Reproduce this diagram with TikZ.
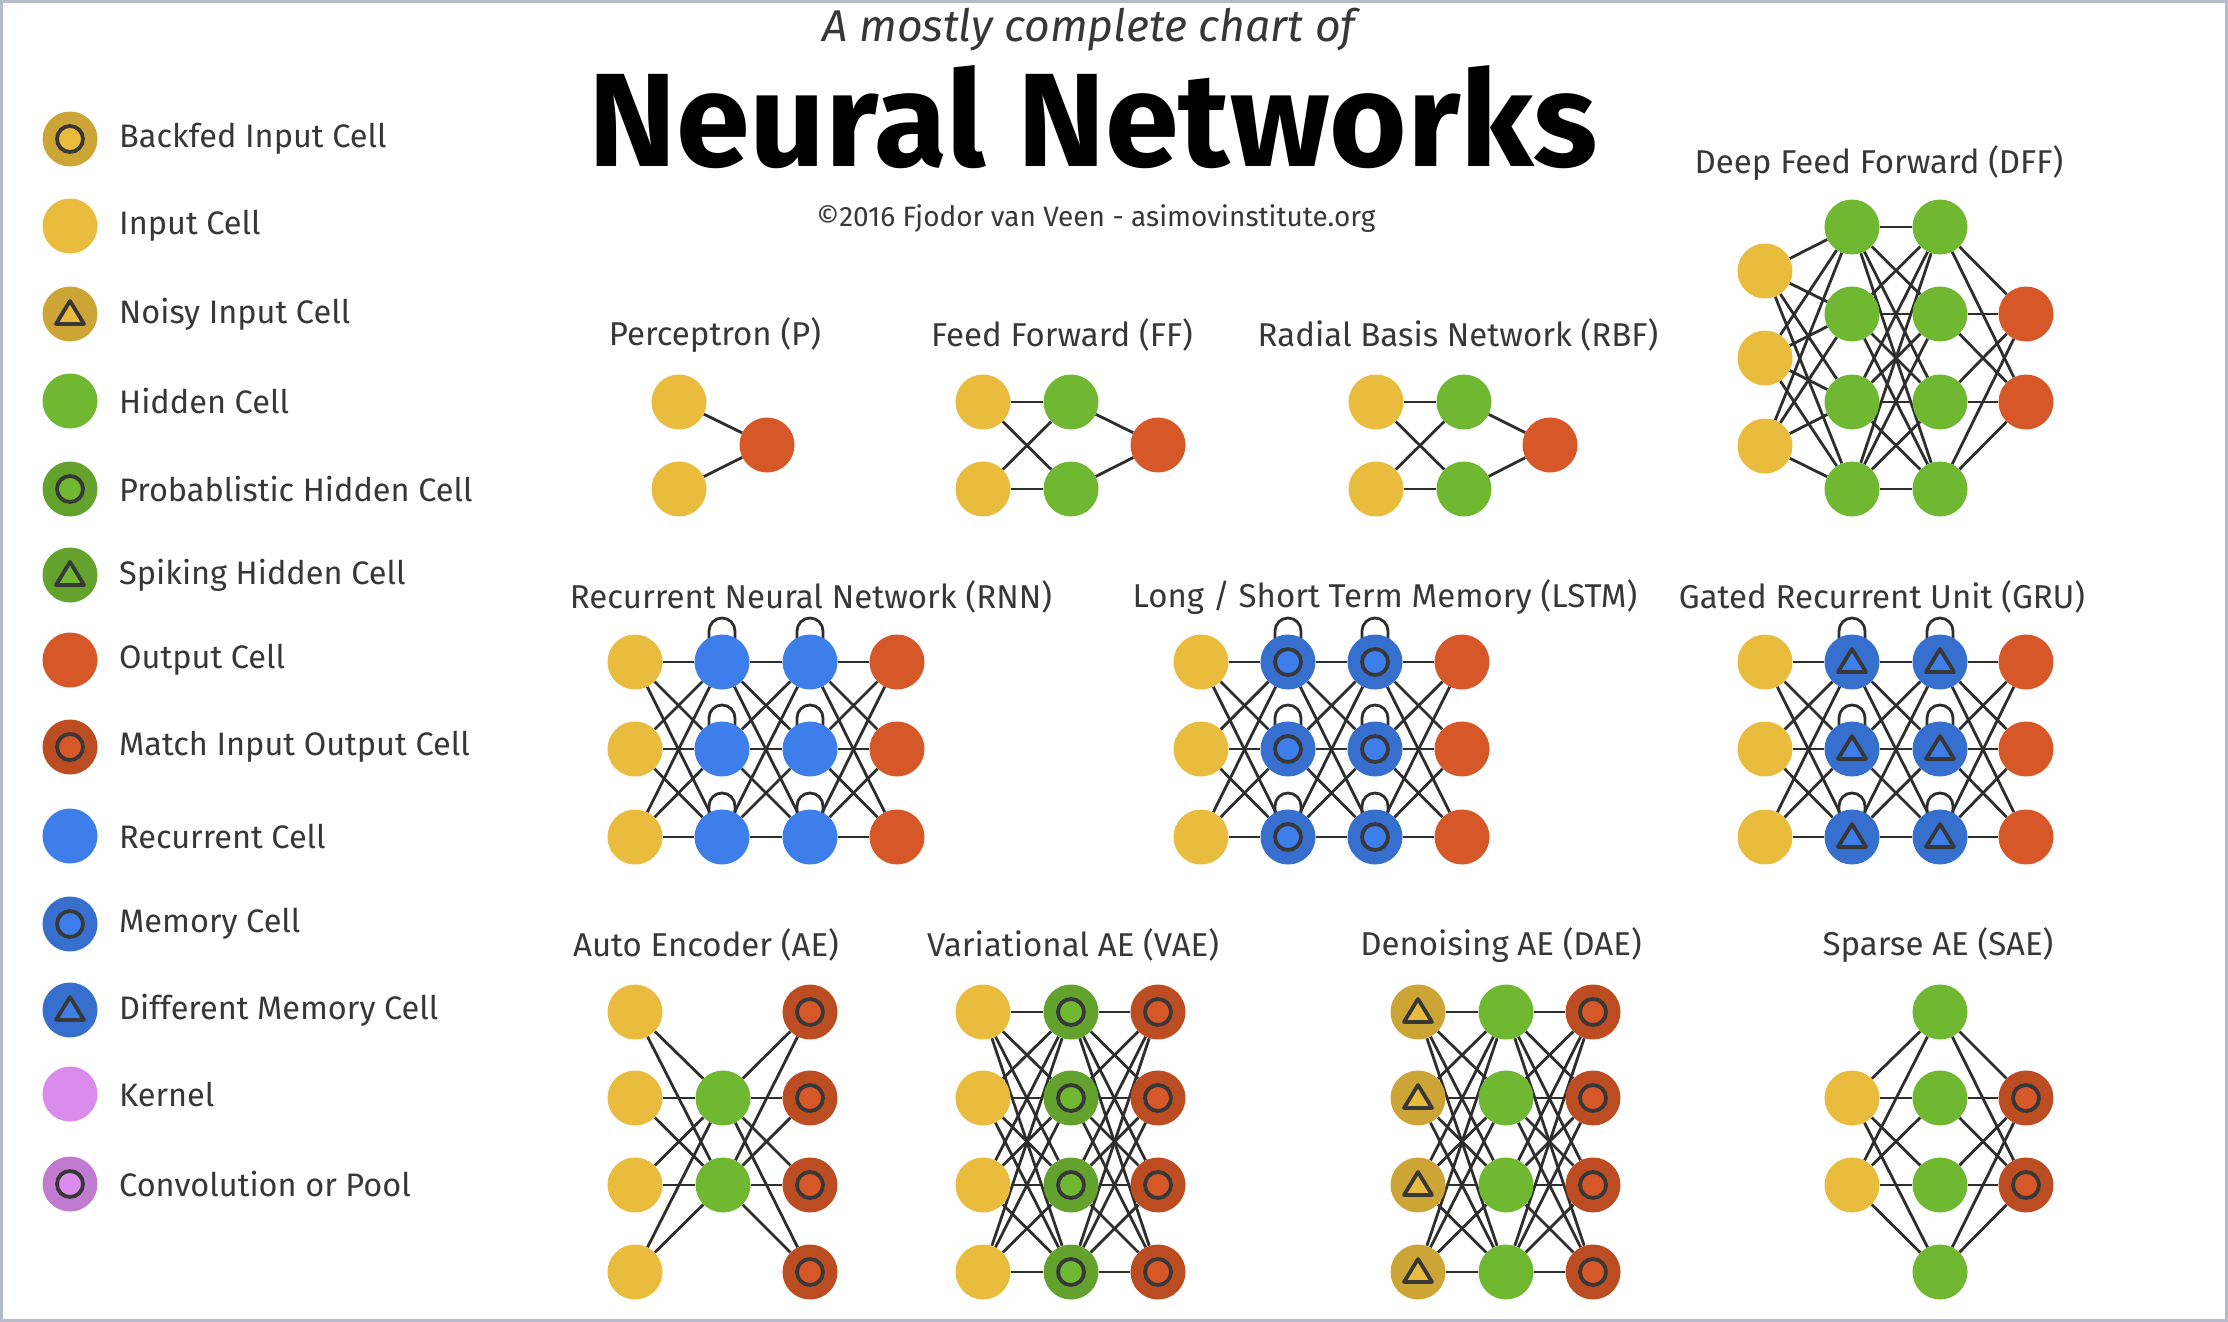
\documentclass[tikz,border=0pt]{standalone}
\usepackage{fontspec}
\setmainfont{Fira Sans}
\definecolor{cY}{RGB}{233,188,62}
\definecolor{cG}{RGB}{112,184,50}
\definecolor{cO}{RGB}{214,88,40}
\definecolor{cB}{RGB}{62,126,234}
\definecolor{cP}{RGB}{218,140,236}
\definecolor{txt}{RGB}{55,55,55}
\definecolor{framec}{RGB}{180,186,202}
\pgfdeclarelayer{paper}
\pgfdeclarelayer{bg}
\pgfsetlayers{paper,bg,main}
\tikzset{
 cell/.style={circle,minimum size=55pt,inner sep=0pt,draw=none},
 yin/.style={cell,fill=cY},
 hid/.style={cell,fill=cG},
 outc/.style={cell,fill=cO},
 rec/.style={cell,fill=cB},
 ker/.style={cell,fill=cP},
 ringc/.style={cell,fill=#1!88!black,path picture={\filldraw[fill=#1,draw=black!78,line width=3.8pt] (path picture bounding box.center) circle[radius=13pt];}},
 tric/.style={cell,fill=#1!88!black,path picture={\filldraw[fill=#1,draw=black!78,line width=3.8pt,line join=round] ([shift={(-14pt,-10pt)}]path picture bounding box.center) -- ([shift={(14pt,-10pt)}]path picture bounding box.center) -- ([shift={(0pt,13pt)}]path picture bounding box.center) -- cycle;}},
 link/.style={draw=black!82,line width=2.8pt},
 lbl/.style={text=txt,font=\fontsize{33}{35}\selectfont,inner sep=0pt},
 leg/.style={text=txt,font=\fontsize{32.5}{34}\selectfont,anchor=west,inner sep=0pt},
}
\newcommand\recloop[1]{\draw[link] ([xshift=-13pt]#1.center) -- ++(0,-31) arc[start angle=180,end angle=360,radius=13] -- ([xshift=13pt]#1.center);}
\begin{document}
\begin{tikzpicture}[x=1pt,y=-1pt]
\useasboundingbox (0,0) rectangle (2228,1322);
\begin{pgfonlayer}{paper}
\fill[white] (0,0) rectangle (2228,1322);
\draw[framec,line width=3pt] (1.5,1.5) rectangle (2226.5,1320.5);
\end{pgfonlayer}

% ---------- titles
\node[text=txt,font=\itshape\fontsize{44.5}{46}\selectfont] (sub) at (1089,30) {A mostly complete chart of};
\node[font=\bfseries\fontsize{133}{136}\selectfont] (title) at (1093,117) {Neural Networks};
\node[text=txt,font=\fontsize{28}{30}\selectfont] (copy) at (1096,219) {©2016 Fjodor van Veen - asimovinstitute.org};

% ---------- legend
\node[ringc=cY] (l1) at (70,139) {};  \node[leg] (t1) at (119,139) {Backfed Input Cell};
\node[yin] (l2) at (70,226) {};       \node[leg] (t2) at (119,226) {Input Cell};
\node[tric=cY] (l3) at (70,314) {};   \node[leg] (t3) at (119,314) {Noisy Input Cell};
\node[hid] (l4) at (70,401) {};       \node[leg] (t4) at (119,401) {Hidden Cell};
\node[ringc=cG] (l5) at (70,489) {};  \node[leg] (t5) at (119,489) {Probablistic Hidden Cell};
\node[tric=cG] (l6) at (70,575) {};   \node[leg] (t6) at (119,575) {Spiking Hidden Cell};
\node[outc] (l7) at (70,660) {};      \node[leg] (t7) at (119,660) {Output Cell};
\node[ringc=cO] (l8) at (70,747) {};  \node[leg] (t8) at (119,747) {Match Input Output Cell};
\node[rec] (l9) at (70,836) {};       \node[leg] (t9) at (119,836) {Recurrent Cell};
\node[ringc=cB] (l10) at (70,924) {}; \node[leg] (t10) at (119,924) {Memory Cell};
\node[tric=cB] (l11) at (70,1010) {}; \node[leg] (t11) at (119,1010) {Different Memory Cell};
\node[ker] (l12) at (70,1094) {};     \node[leg] (t12) at (119,1094) {Kernel};
\node[ringc=cP] (l13) at (70,1184) {};\node[leg] (t13) at (119,1184) {Convolution or Pool};

% ---------- headings
\node[lbl] (hP) at (715,335) {Perceptron (P)};
\node[lbl] (hFF) at (1062,335) {Feed Forward (FF)};
\node[lbl] (hRBF) at (1458,335) {Radial Basis Network (RBF)};
\node[lbl] (hDFF) at (1879,163) {Deep Feed Forward (DFF)};
\node[lbl] (hRNN) at (811,597) {Recurrent Neural Network (RNN)};
\node[lbl] (hLSTM) at (1385,597) {Long / Short Term Memory (LSTM)};
\node[lbl] (hGRU) at (1882,597) {Gated Recurrent Unit (GRU)};
\node[lbl] (hAE) at (706,945) {Auto Encoder (AE)};
\node[lbl] (hVAE) at (1073,945) {Variational AE (VAE)};
\node[lbl] (hDAE) at (1501,945) {Denoising AE (DAE)};
\node[lbl] (hSAE) at (1938,945) {Sparse AE (SAE)};

% ---------- Perceptron
\node[yin] (pA1) at (679,402) {};
\node[yin] (pA2) at (679,489) {};
\node[outc] (pB1) at (767,445) {};
% ---------- FF
\node[yin] (fA1) at (983,402) {};
\node[yin] (fA2) at (983,489) {};
\node[hid] (fB1) at (1071,402) {};
\node[hid] (fB2) at (1071,489) {};
\node[outc] (fC1) at (1158,445) {};
% ---------- RBF
\node[yin] (bA1) at (1376,402) {};
\node[yin] (bA2) at (1376,489) {};
\node[hid] (bB1) at (1464,402) {};
\node[hid] (bB2) at (1464,489) {};
\node[outc] (bC1) at (1550,445) {};
% ---------- DFF
\foreach \r/\y in {1/271,2/358,3/446} \node[yin] (dA\r) at (1765,\y) {};
\foreach \r/\y in {1/227,2/314,3/402,4/489} {\node[hid] (dB\r) at (1852,\y) {}; \node[hid] (dC\r) at (1940,\y) {};}
\foreach \r/\y in {1/314,2/402} \node[outc] (dD\r) at (2026,\y) {};
% ---------- RNN / LSTM / GRU
\foreach \r/\y in {1/662,2/749,3/837} {
  \node[yin] (rA\r) at (635,\y) {};
  \node[rec] (rB\r) at (722,\y) {};
  \node[rec] (rC\r) at (810,\y) {};
  \node[outc] (rD\r) at (897,\y) {};
  \node[yin] (mA\r) at (1201,\y) {};
  \node[ringc=cB] (mB\r) at (1288,\y) {};
  \node[ringc=cB] (mC\r) at (1375,\y) {};
  \node[outc] (mD\r) at (1462,\y) {};
  \node[yin] (gA\r) at (1765,\y) {};
  \node[tric=cB] (gB\r) at (1852,\y) {};
  \node[tric=cB] (gC\r) at (1940,\y) {};
  \node[outc] (gD\r) at (2026,\y) {};
}
% ---------- AE family
\foreach \r/\y in {1/1012,2/1098,3/1185,4/1272} {
  \node[yin] (aA\r) at (635,\y) {};
  \node[ringc=cO] (aC\r) at (810,\y) {};
  \node[yin] (vA\r) at (983,\y) {};
  \node[ringc=cG] (vB\r) at (1071,\y) {};
  \node[ringc=cO] (vC\r) at (1158,\y) {};
  \node[tric=cY] (nA\r) at (1418,\y) {};
  \node[hid] (nB\r) at (1506,\y) {};
  \node[ringc=cO] (nC\r) at (1593,\y) {};
  \node[hid] (sB\r) at (1940,\y) {};
}
\foreach \r/\y in {2/1098,3/1185} {
  \node[hid] (aB\r) at (723,\y) {};
  \node[yin] (sA\r) at (1852,\y) {};
  \node[ringc=cO] (sC\r) at (2026,\y) {};
}

% ---------- connectors
\begin{pgfonlayer}{bg}
\foreach \i in {1,2} \draw[link] (pA\i) -- (pB1);
\foreach \i in {1,2} {\foreach \j in {1,2} {\draw[link] (fA\i) -- (fB\j); \draw[link] (bA\i) -- (bB\j);}
  \draw[link] (fB\i) -- (fC1); \draw[link] (bB\i) -- (bC1);}
\foreach \i in {1,2,3} \foreach \j in {1,2,3,4} \draw[link] (dA\i) -- (dB\j);
\foreach \i in {1,2,3,4} \foreach \j in {1,2,3,4} \draw[link] (dB\i) -- (dC\j);
\foreach \i in {1,2,3,4} \foreach \j in {1,2} \draw[link] (dC\i) -- (dD\j);
\foreach \p in {r,m,g} {
  \foreach \i in {1,2,3} {
    \foreach \j in {1,2,3} {
      \draw[link] (\p A\i) -- (\p B\j);
      \draw[link] (\p B\i) -- (\p C\j);
      \draw[link] (\p C\i) -- (\p D\j);
    }
    \recloop{\p B\i}
    \recloop{\p C\i}
  }
}
\foreach \i in {1,2,3,4} \foreach \j in {2,3} {\draw[link] (aA\i) -- (aB\j); \draw[link] (aB\j) -- (aC\i);}
\foreach \p in {v,n} \foreach \i in {1,2,3,4} \foreach \j in {1,2,3,4} {\draw[link] (\p A\i) -- (\p B\j); \draw[link] (\p B\i) -- (\p C\j);}
\foreach \i in {2,3} \foreach \j in {1,2,3,4} {\draw[link] (sA\i) -- (sB\j); \draw[link] (sB\j) -- (sC\i);}
\end{pgfonlayer}
\end{tikzpicture}
\end{document}
